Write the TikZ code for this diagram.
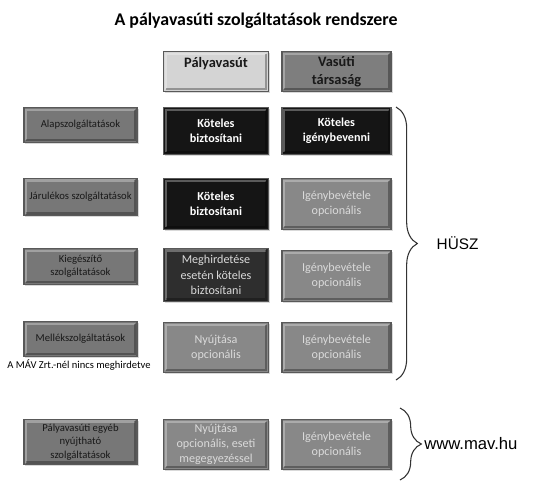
\documentclass[tikz,border=0pt]{standalone}
\usepackage{fontspec}
\setmainfont{Carlito}
\newfontfamily\arialfont{Liberation Sans}
\usetikzlibrary{decorations.pathreplacing, shadows}

\definecolor{tilegray}{HTML}{777777}
\definecolor{headlight}{HTML}{D4D4D4}
\definecolor{headdark}{HTML}{7E7E7E}
\definecolor{musttile}{HTML}{151515}
\definecolor{halftile}{HTML}{2E2E2E}
\definecolor{opttile}{HTML}{888888}
\definecolor{opttext}{HTML}{DADADA}

\begin{document}
\begin{tikzpicture}[x=0.75pt, y=-0.75pt,
    tile/.style={rectangle, draw=black!65, line width=1.1pt, align=center, inner sep=1pt,
      drop shadow={opacity=0.3, shadow xshift=1.2pt, shadow yshift=-1.2pt},
      % bevelled edges
      path picture={
        \draw[white, opacity=0.3, line width=1.6pt]
          ([shift={(1.6pt,1.6pt)}]path picture bounding box.south west) |- ([shift={(-1.6pt,-1.6pt)}]path picture bounding box.north east);
        \draw[black, opacity=0.3, line width=1.6pt]
          ([shift={(1.6pt,1.6pt)}]path picture bounding box.south west) -| ([shift={(-1.6pt,-1.6pt)}]path picture bounding box.north east);
      }},
    sidetile/.style={tile, fill=tilegray, text=black!90, minimum width=85pt, minimum height=#1,
      font=\fontsize{8}{10}\selectfont},
    headtile/.style={tile, minimum height=30pt, text=black!90,
      font=\fontsize{10.8}{14}\selectfont\bfseries},
    musttext/.style={tile, fill=musttile, text=white, font=\fontsize{9.1}{11.5}\selectfont\bfseries},
    opttext/.style={tile, fill=opttile, text=opttext, font=\fontsize{9.1}{11.5}\selectfont},
    midcol/.style={minimum width=78.5pt, minimum height=#1},
    rightcol/.style={minimum width=82pt, minimum height=#1},
    bracket/.style={decorate, decoration={brace, amplitude=16pt}, line width=0.8pt, black!80}
  ]
  \useasboundingbox (0,0) rectangle (533,482);

  \node[font=\fontsize{13.4}{16}\selectfont\bfseries] (title) at (256,21) {A pályavasúti szolgáltatások rendszere};

  % column heads
  \node[headtile, fill=headlight, midcol=30pt] (pv) at (216,71.5) {Pályavasút\\\phantom{x}};
  \node[headtile, fill=headdark, rightcol=30pt] (vt) at (336.5,71.5) {Vasúti\\társaság};

  % HUSZ rows
  \node[sidetile=26pt] (alap) at (80.5,125) {Alapszolgáltatások};
  \node[musttext, midcol=35pt] (kb1) at (216,131) {Köteles\\biztosítani};
  \node[musttext, rightcol=35pt] (ki1) at (336.5,131) {Köteles\\igénybevenni};

  \node[sidetile=28pt] (jar) at (80.5,197) {Járulékos szolgáltatások};
  \node[musttext, midcol=38pt] (kb2) at (216,204) {Köteles\\biztosítani};
  \node[opttext, rightcol=38pt] (io2) at (336.5,204) {Igénybevétele\\opcionális};

  \node[sidetile=27pt] (kieg) at (80.5,266.5) {Kiegészítő\\szolgáltatások};
  \node[opttext, fill=halftile, midcol=40pt] (megh) at (216,275) {Meghirdetése\\esetén köteles\\biztosítani};
  \node[opttext, rightcol=38pt] (io3) at (336.5,276) {Igénybevétele\\opcionális};

  \node[sidetile=26pt] (mell) at (80.5,339) {Mellékszolgáltatások};
  \node[font=\fontsize{7.9}{9}\selectfont] (nincs) at (79,365.5) {A MÁV Zrt.-nél nincs meghirdetve};
  \node[opttext, midcol=37.5pt] (ny4) at (216,347.5) {Nyújtása\\opcionális};
  \node[opttext, rightcol=37.5pt] (io4) at (336.5,347.5) {Igénybevétele\\opcionális};

  % other services
  \node[sidetile=34pt] (egyeb) at (80.5,442) {Pályavasúti egyéb\\nyújtható\\szolgáltatások};
  \node[opttext, midcol=37.5pt] (ny5) at (216,444.5) {Nyújtása\\opcionális, eseti\\megegyezéssel};
  \node[opttext, rightcol=37.5pt] (io5) at (336.5,444.5) {Igénybevétele\\opcionális};

  % braces
  \coordinate (h1) at (396,107);
  \coordinate (h2) at (396,380);
  \draw[bracket] (h1) -- (h2);
  \node[anchor=west, font=\arialfont\fontsize{11.5}{14}\selectfont] (husz) at (432,243.5) {HÜSZ};

  \coordinate (m1) at (400,408);
  \coordinate (m2) at (400,480);
  \draw[bracket] (m1) -- (m2);
  \node[anchor=west, font=\arialfont\fontsize{12.5}{14}\selectfont, inner sep=0pt] (mav) at (424,444) {www.mav.hu};
\end{tikzpicture}
\end{document}
